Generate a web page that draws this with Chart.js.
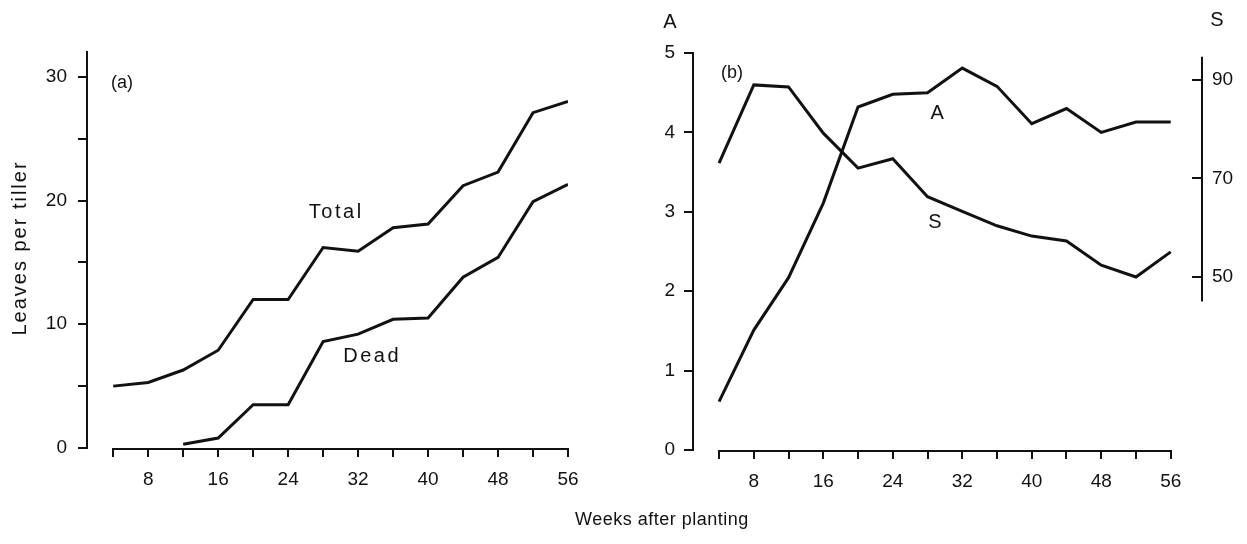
<!DOCTYPE html>
<html>
<head>
<meta charset="utf-8">
<script src="https://cdn.jsdelivr.net/npm/chart.js@4.4.1/dist/chart.umd.min.js"></script>
<style>
    html, body { margin: 0; padding: 0; background: #fff; }
    #wrap { position: relative; width: 1247px; height: 544px; }
    canvas { position: absolute; left: 0; top: 0; }
</style>
</head>
<body>
<div id="wrap">
    <canvas id="chartA" width="1247" height="544"></canvas>
    <canvas id="chartB" width="1247" height="544"></canvas>
</div>
<script>
// Weeks after planting (same abscissa for both panels)
const weeks = [4, 8, 12, 16, 20, 24, 28, 32, 36, 40, 44, 48, 52, 56];

// (a) leaves per tiller
const totalLeaves = [5.0, 5.3, 6.3, 7.9, 12.0, 12.0, 16.2, 15.9, 17.8, 18.1, 21.2, 22.3, 27.1, 28.0];
const deadLeaves = [null, null, 0.3, 0.8, 3.5, 3.5, 8.6, 9.2, 10.4, 10.5, 13.8, 15.4, 19.9, 21.3];

// (b) A (left axis) and S (right axis)
const valuesA = [0.61, 1.51, 2.17, 3.11, 4.32, 4.48, 4.50, 4.81, 4.58, 4.11, 4.30, 4.00, 4.13, 4.13];
const valuesS = [73.1, 89.0, 88.6, 79.2, 72.1, 74.0, 66.3, 63.3, 60.4, 58.3, 57.3, 52.4, 50.0, 55.1];

// Tick values
const weekTicks = [4, 8, 12, 16, 20, 24, 28, 32, 36, 40, 44, 48, 52, 56];
const leafTicks = [0, 5, 10, 15, 20, 25, 30];
const aTicks = [0, 1, 2, 3, 4, 5];
const sTicks = [50, 70, 90];
const sAxisRange = [45, 94.7];

const FONT = "'Liberation Sans', Arial, sans-serif";
const INK = "#111";

function points(values) {
    return weeks.map((w, i) => ({ x: w, y: values[i] }));
}

function lineStyle() {
    return { borderColor: INK, borderWidth: 3, pointRadius: 0, tension: 0, fill: false };
}

function setTicks(list) {
    return (scale) => { scale.ticks = list.map(v => ({ value: v })); };
}

// Axis lines that do not run along the whole chart area + text labels
const extras = {
    id: "extras",
    afterDraw(chart, args, opts) {
        const ctx = chart.ctx;
        const x = chart.scales.x;
        ctx.save();
        ctx.strokeStyle = INK;
        ctx.lineWidth = 2;
        ctx.beginPath();
        ctx.moveTo(x.getPixelForValue(weekTicks[0]), x.top + 1);
        ctx.lineTo(x.getPixelForValue(weekTicks[weekTicks.length - 1]), x.top + 1);
        ctx.stroke();

        if (chart.scales.yS) {
            const s = chart.scales.yS;
            ctx.beginPath();
            ctx.moveTo(s.left, s.getPixelForValue(sAxisRange[1]));
            ctx.lineTo(s.left, s.getPixelForValue(sAxisRange[0]));
            ctx.stroke();
        }

        ctx.fillStyle = INK;
        ctx.textAlign = "center";
        ctx.textBaseline = "middle";
        (opts.labels || []).forEach(l => {
            ctx.save();
            ctx.font = (l.size || 19) + "px " + FONT;
            ctx.letterSpacing = (l.spacing || 0) + "px";
            const px = l.px !== undefined ? l.px(chart) : x.getPixelForValue(l.x);
            const py = l.py !== undefined ? l.py(chart) : chart.scales[l.scale || "y"].getPixelForValue(l.y);
            ctx.translate(px, py);
            if (l.rotate) ctx.rotate(l.rotate);
            ctx.fillText(l.text, 0, 0);
            ctx.restore();
        });
        ctx.restore();
    }
};

const tickFont = { family: FONT, size: 19 };

// Panel (a)
new Chart(document.getElementById("chartA"), {
    type: "line",
    data: {
        datasets: [
            { label: "Total", data: points(totalLeaves), ...lineStyle() },
            { label: "Dead", data: points(deadLeaves), ...lineStyle() },
        ],
    },
    options: {
        responsive: false,
        animation: false,
        devicePixelRatio: 1,
        layout: { padding: { left: 0, top: 52, right: 1247 - 568, bottom: 0 } },
        scales: {
            x: {
                type: "linear",
                min: 1,
                max: 56,
                afterBuildTicks: setTicks(weekTicks),
                afterFit: (s) => { s.height = 96; },
                border: { display: false },
                grid: { drawOnChartArea: false, color: INK, lineWidth: 2, tickLength: 9 },
                ticks: { color: INK, font: tickFont, padding: 11, maxRotation: 0, autoSkip: false,
                    callback: (v) => (v % 8 === 0 ? v : "") },
            },
            y: {
                min: 0,
                max: 32,
                afterBuildTicks: setTicks(leafTicks),
                afterFit: (s) => { s.width = 87; },
                border: { display: true, color: INK, width: 2 },
                grid: { drawOnChartArea: false, color: INK, lineWidth: 2, tickLength: 9 },
                ticks: { color: INK, font: tickFont, padding: 11,
                    callback: (v) => (v % 10 === 0 ? v : "") },
            },
        },
        plugins: {
            legend: { display: false },
            tooltip: { enabled: false },
            extras: {
                labels: [
                    { text: "(a)", x: 5.0, y: 29.5, size: 18 },
                    { text: "Total", x: 29.5, y: 19.0, size: 20, spacing: 2.5 },
                    { text: "Dead", x: 33.6, y: 7.4, size: 20, spacing: 2.5 },
                    { text: "Leaves per tiller", px: () => 20, py: () => 248, size: 20, spacing: 2, rotate: -Math.PI / 2 },
                    { text: "Weeks after planting", px: () => 662, py: () => 520, size: 18, spacing: 0.5 },
                ],
            },
        },
    },
    plugins: [extras],
});

// Panel (b)
new Chart(document.getElementById("chartB"), {
    type: "line",
    data: {
        datasets: [
            { label: "A", data: points(valuesA), yAxisID: "y", ...lineStyle() },
            { label: "S", data: points(valuesS), yAxisID: "yS", ...lineStyle() },
        ],
    },
    options: {
        responsive: false,
        animation: false,
        devicePixelRatio: 1,
        layout: { padding: { left: 640, top: 53, right: 0, bottom: 0 } },
        scales: {
            x: {
                type: "linear",
                min: 1,
                max: 59.6,
                afterBuildTicks: setTicks(weekTicks),
                afterFit: (s) => { s.height = 94; },
                border: { display: false },
                grid: { drawOnChartArea: false, color: INK, lineWidth: 2, tickLength: 9 },
                ticks: { color: INK, font: tickFont, padding: 11, maxRotation: 0, autoSkip: false,
                    callback: (v) => (v % 8 === 0 ? v : "") },
            },
            y: {
                position: "left",
                min: 0,
                max: 5,
                afterBuildTicks: setTicks(aTicks),
                afterFit: (s) => { s.width = 53; },
                border: { display: true, color: INK, width: 2 },
                grid: { drawOnChartArea: false, color: INK, lineWidth: 2, tickLength: 9 },
                ticks: { color: INK, font: tickFont, padding: 9 },
            },
            yS: {
                position: "right",
                min: 14.87,
                max: 95.48,
                afterBuildTicks: setTicks(sTicks),
                afterFit: (s) => { s.width = 45; },
                border: { display: false },
                grid: { drawOnChartArea: false, color: INK, lineWidth: 2, tickLength: -10 },
                ticks: { color: INK, font: tickFont, padding: 20 },
            },
        },
        plugins: {
            legend: { display: false },
            tooltip: { enabled: false },
            extras: {
                labels: [
                    { text: "(b)", x: 5.5, y: 4.75, size: 18 },
                    { text: "A", x: 29.1, y: 4.24, size: 20 },
                    { text: "S", x: 28.85, y: 2.87, size: 20 },
                    { text: "A", px: (c) => c.scales.y.right - 23, py: () => 22, size: 20 },
                    { text: "S", px: (c) => c.scales.yS.left + 15, py: () => 20, size: 20 },
                ],
            },
        },
    },
    plugins: [extras],
});
</script>
</body>
</html>
